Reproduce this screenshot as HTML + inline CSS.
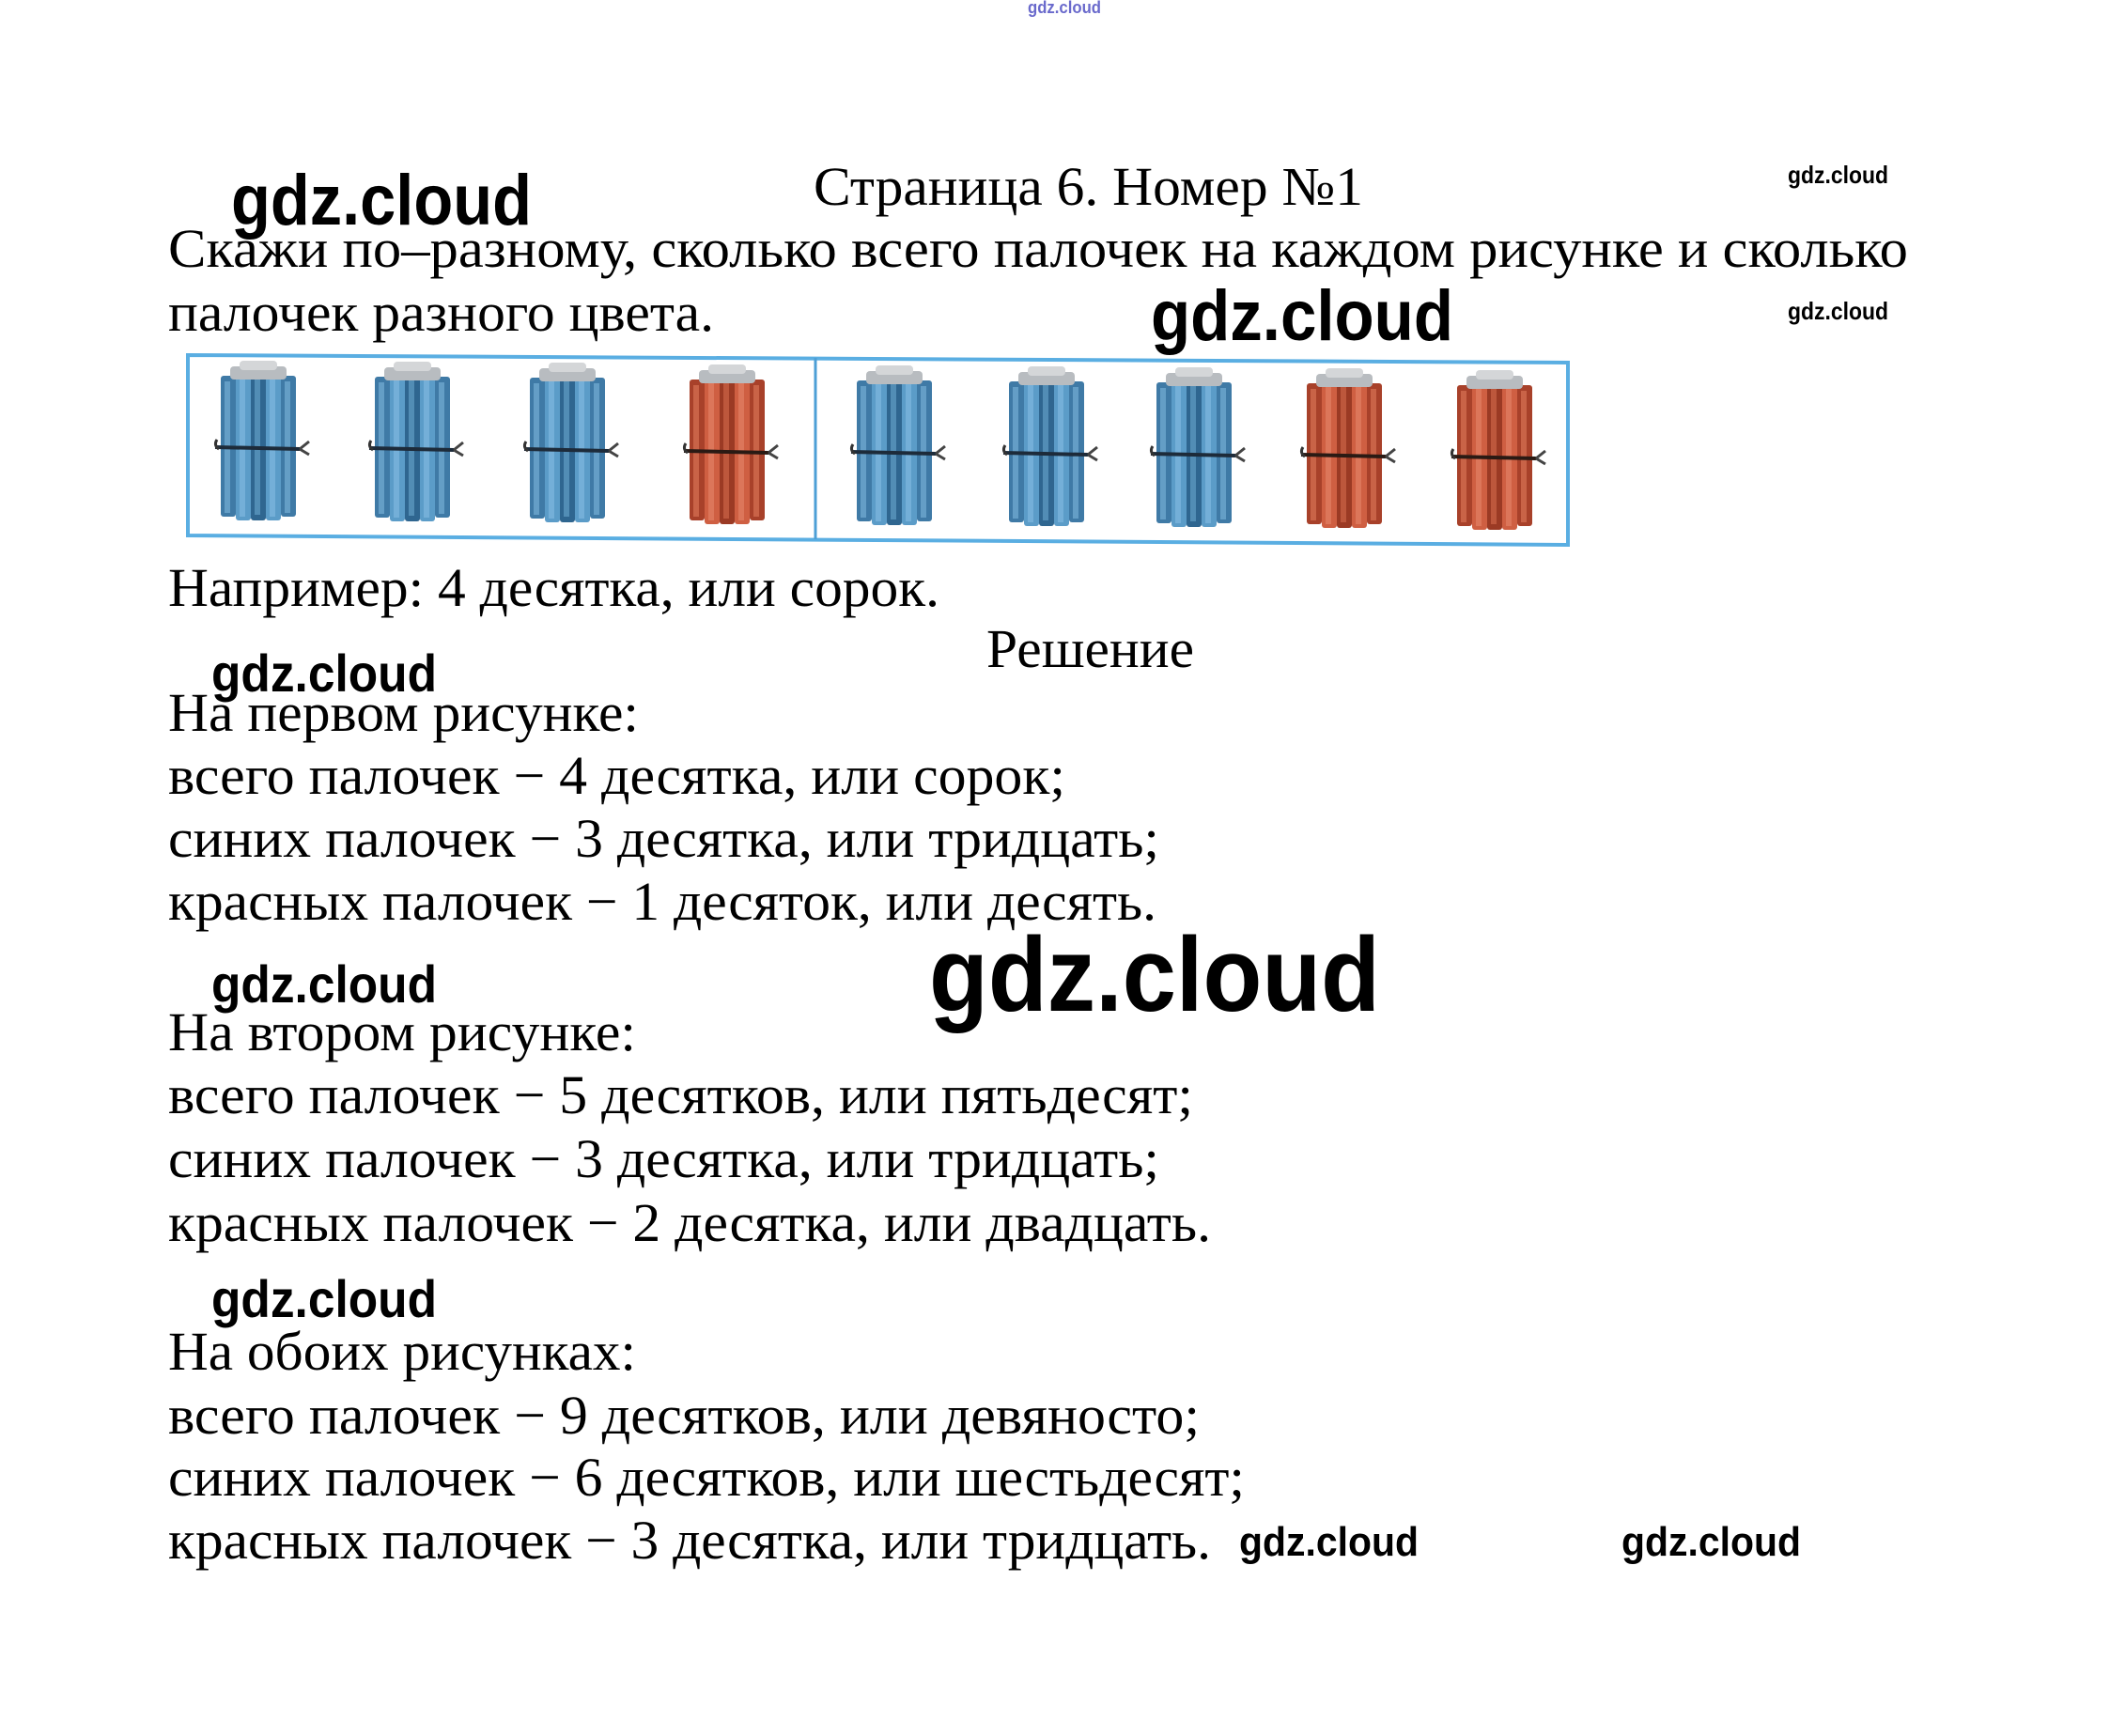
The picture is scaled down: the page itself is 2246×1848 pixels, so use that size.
<!DOCTYPE html>
<html><head><meta charset="utf-8"><style>
html,body{margin:0;padding:0;background:#fff;}
svg{display:block;}
.s{font-family:"Liberation Serif","Noto Serif CJK SC",serif;font-size:58px;fill:#000;}
.g{font-family:"Liberation Sans","DejaVu Sans",sans-serif;fill:#000;font-weight:bold;}
</style></head><body>
<svg width="2246" height="1848" viewBox="0 0 2246 1848" xmlns="http://www.w3.org/2000/svg">
<defs>
<g id="bb">
  <rect x="-40" y="8" width="16" height="150" rx="3" fill="#3f7aa6"/>
  <rect x="-24" y="4" width="16" height="158" rx="3" fill="#5b9cc8"/>
  <rect x="-8" y="0" width="16" height="162" rx="3" fill="#2f6690"/>
  <rect x="8" y="4" width="16" height="158" rx="3" fill="#5b9cc8"/>
  <rect x="24" y="8" width="16" height="150" rx="3" fill="#3f7aa6"/>
  <rect x="-36" y="14" width="6" height="140" fill="#7db5dc" opacity=".6"/>
  <rect x="-20" y="10" width="6" height="148" fill="#85bde2" opacity=".6"/>
  <rect x="-4" y="6" width="6" height="150" fill="#6aa6cf" opacity=".6"/>
  <rect x="12" y="10" width="6" height="148" fill="#85bde2" opacity=".6"/>
  <rect x="28" y="14" width="6" height="140" fill="#7db5dc" opacity=".6"/>
  <rect x="-30" y="-2" width="60" height="14" rx="4" fill="#b8bcc0"/>
  <rect x="-20" y="-8" width="40" height="10" rx="4" fill="#d4d6d8"/>
  <path d="M-46 84 L44 86" stroke="#1d2b3a" stroke-width="4"/>
  <path d="M-44 76 q-4 6 2 10" stroke="#333" stroke-width="3" fill="none"/>
  <path d="M44 86 l10 -8 M44 86 l10 6" stroke="#444" stroke-width="3"/>
</g>
<g id="rb">
  <rect x="-40" y="8" width="16" height="150" rx="3" fill="#a8412a"/>
  <rect x="-24" y="4" width="16" height="158" rx="3" fill="#cf5f42"/>
  <rect x="-8" y="0" width="16" height="162" rx="3" fill="#9b3a24"/>
  <rect x="8" y="4" width="16" height="158" rx="3" fill="#cf5f42"/>
  <rect x="24" y="8" width="16" height="150" rx="3" fill="#a8412a"/>
  <rect x="-36" y="14" width="6" height="140" fill="#e07a5c" opacity=".6"/>
  <rect x="-20" y="10" width="6" height="148" fill="#e4866a" opacity=".6"/>
  <rect x="-4" y="6" width="6" height="150" fill="#d36a4c" opacity=".6"/>
  <rect x="12" y="10" width="6" height="148" fill="#e4866a" opacity=".6"/>
  <rect x="28" y="14" width="6" height="140" fill="#e07a5c" opacity=".6"/>
  <rect x="-30" y="-2" width="60" height="14" rx="4" fill="#b8bcc0"/>
  <rect x="-20" y="-8" width="40" height="10" rx="4" fill="#d4d6d8"/>
  <path d="M-46 84 L44 86" stroke="#2a1a14" stroke-width="4"/>
  <path d="M-44 76 q-4 6 2 10" stroke="#333" stroke-width="3" fill="none"/>
  <path d="M44 86 l10 -8 M44 86 l10 6" stroke="#444" stroke-width="3"/>
</g>
</defs>

<text x="1094" y="14" class="g" font-size="18" style="fill:#6a6acc" textLength="78" lengthAdjust="spacingAndGlyphs">gdz.cloud</text>

<text x="246" y="239" class="g" font-size="76" textLength="320" lengthAdjust="spacingAndGlyphs">gdz.cloud</text>
<text x="866" y="218" class="s" textLength="585" lengthAdjust="spacingAndGlyphs">Страница 6. Номер №1</text>
<text x="1903" y="195" class="g" font-size="26" textLength="107" lengthAdjust="spacingAndGlyphs">gdz.cloud</text>

<text x="179" y="284" class="s" textLength="1852" lengthAdjust="spacingAndGlyphs">Скажи по–разному, сколько всего палочек на каждом рисунке и сколько</text>
<text x="179" y="352" class="s" textLength="581" lengthAdjust="spacingAndGlyphs">палочек разного цвета.</text>
<text x="1225" y="362" class="g" font-size="76" textLength="322" lengthAdjust="spacingAndGlyphs">gdz.cloud</text>
<text x="1903" y="340" class="g" font-size="26" textLength="107" lengthAdjust="spacingAndGlyphs">gdz.cloud</text>

<polygon points="200,378 1669,386 1669,580 200,570" fill="#fff" stroke="#5aaee2" stroke-width="4"/>
<line x1="868" y1="381" x2="868" y2="574" stroke="#4d9fd6" stroke-width="3"/>
<use href="#bb" x="275" y="392"/>
<use href="#bb" x="439" y="393"/>
<use href="#bb" x="604" y="394"/>
<use href="#rb" x="774" y="396"/>
<use href="#bb" x="952" y="397"/>
<use href="#bb" x="1114" y="398"/>
<use href="#bb" x="1271" y="399"/>
<use href="#rb" x="1431" y="400"/>
<use href="#rb" x="1591" y="402"/>

<text x="179" y="645" class="s" textLength="821" lengthAdjust="spacingAndGlyphs">Например: 4 десятка, или сорок.</text>
<text x="1050" y="710" class="s" textLength="221" lengthAdjust="spacingAndGlyphs">Решение</text>
<text x="225" y="736" class="g" font-size="56" textLength="240" lengthAdjust="spacingAndGlyphs">gdz.cloud</text>

<text x="179" y="778" class="s" textLength="501" lengthAdjust="spacingAndGlyphs">На первом рисунке:</text>
<text x="179" y="845" class="s" textLength="955" lengthAdjust="spacingAndGlyphs">всего палочек − 4 десятка, или сорок;</text>
<text x="179" y="912" class="s" textLength="1055" lengthAdjust="spacingAndGlyphs">синих палочек − 3 десятка, или тридцать;</text>
<text x="179" y="979" class="s" textLength="1052" lengthAdjust="spacingAndGlyphs">красных палочек − 1 десяток, или десять.</text>

<text x="225" y="1067" class="g" font-size="56" textLength="240" lengthAdjust="spacingAndGlyphs">gdz.cloud</text>
<text x="989" y="1076" class="g" font-size="112" textLength="480" lengthAdjust="spacingAndGlyphs">gdz.cloud</text>

<text x="179" y="1118" class="s" textLength="498" lengthAdjust="spacingAndGlyphs">На втором рисунке:</text>
<text x="179" y="1185" class="s" textLength="1091" lengthAdjust="spacingAndGlyphs">всего палочек − 5 десятков, или пятьдесят;</text>
<text x="179" y="1253" class="s" textLength="1055" lengthAdjust="spacingAndGlyphs">синих палочек − 3 десятка, или тридцать;</text>
<text x="179" y="1321" class="s" textLength="1110" lengthAdjust="spacingAndGlyphs">красных палочек − 2 десятка, или двадцать.</text>

<text x="225" y="1402" class="g" font-size="56" textLength="240" lengthAdjust="spacingAndGlyphs">gdz.cloud</text>

<text x="179" y="1458" class="s" textLength="498" lengthAdjust="spacingAndGlyphs">На обоих рисунках:</text>
<text x="179" y="1526" class="s" textLength="1098" lengthAdjust="spacingAndGlyphs">всего палочек − 9 десятков, или девяносто;</text>
<text x="179" y="1592" class="s" textLength="1146" lengthAdjust="spacingAndGlyphs">синих палочек − 6 десятков, или шестьдесят;</text>
<text x="179" y="1659" class="s" textLength="1110" lengthAdjust="spacingAndGlyphs">красных палочек − 3 десятка, или тридцать.</text>
<text x="1319" y="1656" class="g" font-size="44" textLength="191" lengthAdjust="spacingAndGlyphs">gdz.cloud</text>
<text x="1726" y="1656" class="g" font-size="44" textLength="191" lengthAdjust="spacingAndGlyphs">gdz.cloud</text>
</svg>
</body></html>
